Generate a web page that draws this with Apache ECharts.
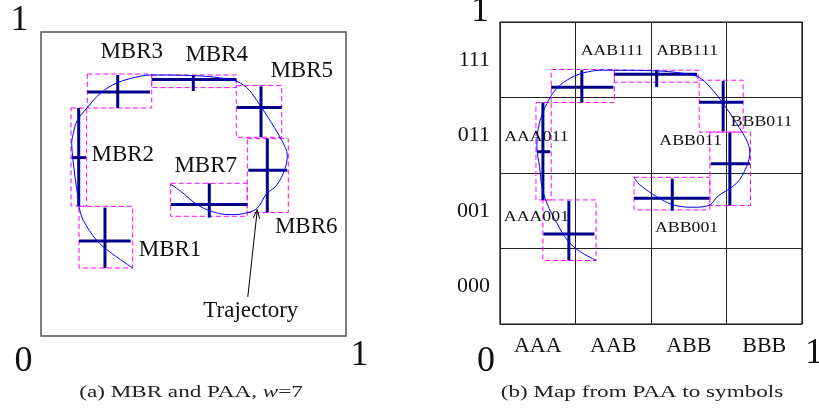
<!DOCTYPE html>
<html>
<head>
<meta charset="utf-8">
<script src="https://cdn.jsdelivr.net/npm/echarts@6/dist/echarts.min.js"></script>
<style>
html,body{margin:0;padding:0;background:#fff;}
#c{width:819px;height:411px;}
</style>
</head>
<body>
<div id="c"></div>
<script>
// ---------- data (unit square coordinates, 0..1) ----------
// Panel (a): MBR rectangles [x1, y1, x2, y2]
const mbrA = [
  [0.1246, 0.2237, 0.3007, 0.4266],
  [0.0984, 0.4276, 0.1498, 0.7500],
  [0.1518, 0.7500, 0.3630, 0.8618],
  [0.3630, 0.8171, 0.6403, 0.8586],
  [0.6403, 0.6536, 0.7892, 0.8237],
  [0.6764, 0.4059, 0.8108, 0.6493],
  [0.4252, 0.3938, 0.6764, 0.5023]
];
// Panel (a): PAA crosses [cx, cy, hx1, hx2, vy1, vy2]
const paaA = [
  [0.2098, 0.3125, 0.1246, 0.2941, 0.2237, 0.4224],
  [0.1236, 0.5868, 0.1007, 0.1475, 0.4276, 0.7500],
  [0.2515, 0.8026, 0.1518, 0.3574, 0.7500, 0.8586],
  [0.4993, 0.8434, 0.3630, 0.6403, 0.8059, 0.8586],
  [0.7213, 0.7513, 0.6416, 0.7892, 0.6536, 0.8214],
  [0.7420, 0.5451, 0.6797, 0.8075, 0.4059, 0.6493],
  [0.5518, 0.4322, 0.4252, 0.6764, 0.3895, 0.5023]
];
// Panel (a): trajectory
const trajA = [
  [0.3007,0.2237],[0.2262,0.2763],[0.1826,0.3148],[0.1387,0.3806],[0.1246,0.4243],
  [0.1223,0.4464],[0.1115,0.5230],[0.1039,0.5888],[0.1007,0.6329],[0.1059,0.6658],
  [0.1190,0.7095],[0.1518,0.7513],[0.1934,0.7974],[0.2482,0.8322],[0.3246,0.8543],
  [0.3630,0.8586],[0.4993,0.8566],[0.6305,0.8411],[0.6744,0.8171],[0.7072,0.7753],
  [0.7400,0.7260],[0.7892,0.6438],[0.8075,0.5944],[0.8000,0.5507],[0.7728,0.4957],
  [0.7400,0.4684],[0.7072,0.4191],[0.6633,0.4026],[0.6197,0.3993],[0.5649,0.4079],
  [0.5105,0.4332],[0.4613,0.4737],[0.4252,0.4990]
];
const labelNamesA = ['MBR1','MBR2','MBR3','MBR4','MBR5','MBR6','MBR7','Trajectory'];
const labelXA = [0.4230, 0.2682, 0.2974, 0.5761, 0.8548, 0.8695, 0.5400, 0.6879];
const labelYA = [0.2836, 0.5944, 0.9332, 0.9234, 0.8707, 0.3586, 0.5582, 0.0819];
const arrowA = [[0.6780, 0.1286, 0.7092, 0.4161]];

// Panel (b)
const mbrB = [
  [0.1421, 0.2102, 0.3182, 0.4108],
  [0.1190, 0.4108, 0.1695, 0.7336],
  [0.1695, 0.7336, 0.3787, 0.8427],
  [0.3787, 0.8007, 0.6563, 0.8404],
  [0.6596, 0.6355, 0.8050, 0.8073],
  [0.6950, 0.3919, 0.8295, 0.6355],
  [0.4438, 0.3777, 0.6950, 0.4858]
];
const paaB = [
  [0.2280, 0.2984, 0.1441, 0.3126, 0.2102, 0.4075],
  [0.1421, 0.5704, 0.1223, 0.1662, 0.4108, 0.7336],
  [0.2710, 0.7842, 0.1695, 0.3754, 0.7336, 0.8404],
  [0.5188, 0.8272, 0.3787, 0.6530, 0.7852, 0.8404],
  [0.7389, 0.7346, 0.6596, 0.8050, 0.6378, 0.8050],
  [0.7611, 0.5307, 0.6973, 0.8272, 0.3919, 0.6332],
  [0.5704, 0.4164, 0.4438, 0.6927, 0.3754, 0.4812]
];
const trajB = [
  [0.3182,0.2102],[0.2654,0.2399],[0.2267,0.2730],[0.1884,0.3338],[0.1553,0.3999],
  [0.1388,0.4547],[0.1309,0.5208],[0.1223,0.5869],[0.1243,0.6312],[0.1332,0.6752],
  [0.1553,0.7303],[0.1827,0.7743],[0.2214,0.8073],[0.2763,0.8315],[0.3424,0.8404],
  [0.3866,0.8404],[0.5188,0.8381],[0.5958,0.8315],[0.6563,0.8182],[0.6950,0.7852],
  [0.7389,0.7303],[0.7832,0.6642],[0.8163,0.6091],[0.8272,0.5704],[0.8163,0.5208],
  [0.7832,0.4660],[0.7198,0.4217],[0.6950,0.3942],[0.6398,0.3866],[0.5737,0.3942],
  [0.5188,0.4217],[0.4636,0.4604],[0.4438,0.4845]
];
const labelNamesB = ['AAA001','AAA011','AAB111','ABB111','BBB011','ABB011','ABB001'];
const labelXB = [0.1206, 0.1206, 0.3711, 0.6196, 0.8658, 0.6312, 0.6180];
const labelYB = [0.3523, 0.6173, 0.9022, 0.9022, 0.6669, 0.6034, 0.3173];
const colSymbols = ['AAA','AAB','ABB','BBB'];
const rowSymbols = ['000','001','011','111'];

// ---------- styles ----------
const SERIF = '"Liberation Serif", "Times New Roman", serif';
const TXT = '#111';
const MAG = '#ff00ff';
const NAVY = '#00008b';

function rectItem(params, api) {
  const p1 = api.coord([api.value(0), api.value(3)]);
  const p2 = api.coord([api.value(2), api.value(1)]);
  return {
    type: 'rect',
    shape: { x: p1[0], y: p1[1], width: p2[0] - p1[0], height: p2[1] - p1[1] },
    style: { fill: 'none', stroke: MAG, lineWidth: 1, lineDash: [5, 3] }
  };
}
function crossItem(params, api) {
  const h1 = api.coord([api.value(2), api.value(1)]);
  const h2 = api.coord([api.value(3), api.value(1)]);
  const v1 = api.coord([api.value(0), api.value(4)]);
  const v2 = api.coord([api.value(0), api.value(5)]);
  const st = { stroke: NAVY, lineWidth: 3 };
  return {
    type: 'group',
    children: [
      { type: 'line', shape: { x1: h1[0], y1: h1[1], x2: h2[0], y2: h2[1] }, style: st },
      { type: 'line', shape: { x1: v1[0], y1: v1[1], x2: v2[0], y2: v2[1] }, style: st }
    ]
  };
}
function labelRenderer(names, fontSize, scaleX) {
  return function (params, api) {
    const p = api.coord([api.value(0), api.value(1)]);
    return {
      type: 'text', x: p[0], y: p[1], scaleX: scaleX,
      style: {
        text: names[params.dataIndex], fill: TXT,
        font: fontSize + 'px ' + SERIF, align: 'center', verticalAlign: 'middle'
      }
    };
  };
}
function arrowItem(params, api) {
  const a = api.coord([api.value(0), api.value(1)]);
  const b = api.coord([api.value(2), api.value(3)]);
  const dx = b[0] - a[0], dy = b[1] - a[1];
  const L = Math.sqrt(dx * dx + dy * dy);
  const ux = dx / L, uy = dy / L;
  const hl = 9, hw = 3.2;
  const bx = b[0] - ux * hl, by = b[1] - uy * hl;
  const st = { stroke: '#000', lineWidth: 1 };
  return {
    type: 'group',
    children: [
      { type: 'line', shape: { x1: a[0], y1: a[1], x2: b[0], y2: b[1] }, style: st },
      { type: 'polyline', shape: { points: [[bx - uy * hw, by + ux * hw], [b[0], b[1]], [bx + uy * hw, by - ux * hw]] }, style: { stroke: '#000', lineWidth: 1, fill: 'none' } }
    ]
  };
}

const chart = echarts.init(document.getElementById('c'), null, { renderer: 'canvas' });

const valAxis = (gi, show) => ({
  type: 'value', gridIndex: gi, min: 0, max: 1, interval: 0.25,
  axisLine: { show: false }, axisTick: { show: false }, axisLabel: { show: false },
  splitLine: { show: show, lineStyle: { color: '#222', width: 1 } }
});

const capStyle = (txt, x) => ({
  type: 'text', x: x, y: 393, scaleX: 1.36,
  style: {
    text: txt, font: '17px ' + SERIF, fill: '#222', align: 'center', verticalAlign: 'middle',
    rich: { i: { fontStyle: 'italic', fontSize: 17, fontFamily: SERIF, fill: '#222' } }
  }
});

const option = {
  animation: false,
  backgroundColor: '#fff',
  grid: [
    { left: 41, top: 32, width: 305, height: 304, show: true, borderColor: '#555', borderWidth: 1.5, backgroundColor: 'transparent' },
    { left: 500, top: 22, width: 302, height: 302, show: true, borderColor: '#111', borderWidth: 1.2, backgroundColor: 'transparent' }
  ],
  xAxis: [
    valAxis(0, false),
    valAxis(1, true),
    {
      type: 'category', gridIndex: 1, data: colSymbols, position: 'bottom',
      axisLine: { show: false }, axisTick: { show: false }, splitLine: { show: false },
      axisLabel: { margin: 11, color: TXT, fontFamily: SERIF, fontSize: 22 }
    }
  ],
  yAxis: [
    valAxis(0, false),
    valAxis(1, true),
    {
      type: 'category', gridIndex: 1, data: rowSymbols, position: 'left',
      axisLine: { show: false }, axisTick: { show: false }, splitLine: { show: false },
      axisLabel: { margin: 10, color: TXT, fontFamily: SERIF, fontSize: 22 }
    }
  ],
  series: [
    { type: 'custom', xAxisIndex: 0, yAxisIndex: 0, data: mbrA, renderItem: rectItem, z: 2 },
    { type: 'custom', xAxisIndex: 0, yAxisIndex: 0, data: paaA, renderItem: crossItem, z: 3 },
    { type: 'line', xAxisIndex: 0, yAxisIndex: 0, data: trajA, smooth: 0.35, showSymbol: false,
      lineStyle: { color: '#0000ff', width: 1 }, z: 4 },
    { type: 'custom', xAxisIndex: 0, yAxisIndex: 0, data: labelXA.map((x, i) => [x, labelYA[i]]),
      renderItem: labelRenderer(labelNamesA, 23, 1), z: 5 },
    { type: 'custom', xAxisIndex: 0, yAxisIndex: 0, data: arrowA, renderItem: arrowItem, z: 5 },

    { type: 'custom', xAxisIndex: 1, yAxisIndex: 1, data: mbrB, renderItem: rectItem, z: 2 },
    { type: 'custom', xAxisIndex: 1, yAxisIndex: 1, data: paaB, renderItem: crossItem, z: 3 },
    { type: 'line', xAxisIndex: 1, yAxisIndex: 1, data: trajB, smooth: 0.35, showSymbol: false,
      lineStyle: { color: '#0000ff', width: 1 }, z: 4 },
    { type: 'custom', xAxisIndex: 1, yAxisIndex: 1, data: labelXB.map((x, i) => [x, labelYB[i]]),
      renderItem: labelRenderer(labelNamesB, 14, 1.27), z: 5 }
  ],
  graphic: [
    { type: 'text', x: 19.5, y: 21, style: { text: '1', font: '36px ' + SERIF, fill: TXT, align: 'center', verticalAlign: 'middle' } },
    { type: 'text', x: 23.5, y: 362, style: { text: '0', font: '36px ' + SERIF, fill: TXT, align: 'center', verticalAlign: 'middle' } },
    { type: 'text', x: 359.5, y: 356, style: { text: '1', font: '36px ' + SERIF, fill: TXT, align: 'center', verticalAlign: 'middle' } },
    { type: 'text', x: 480, y: 12, style: { text: '1', font: '36px ' + SERIF, fill: TXT, align: 'center', verticalAlign: 'middle' } },
    { type: 'text', x: 486, y: 362, style: { text: '0', font: '36px ' + SERIF, fill: TXT, align: 'center', verticalAlign: 'middle' } },
    { type: 'text', x: 814, y: 354, style: { text: '1', font: '36px ' + SERIF, fill: TXT, align: 'center', verticalAlign: 'middle' } },
    capStyle('(a) MBR and PAA, {i|w}=7', 191),
    capStyle('(b) Map from PAA to symbols', 642)
  ]
};
chart.setOption(option);
</script>
</body>
</html>
